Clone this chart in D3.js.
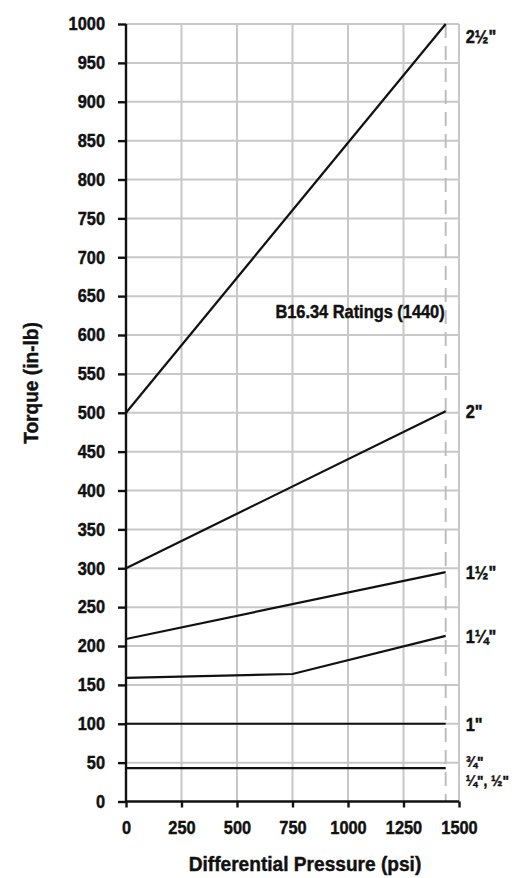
<!DOCTYPE html>
<html>
<head>
<meta charset="utf-8">
<script src="https://cdn.jsdelivr.net/npm/d3@7"></script>
<style>
  html, body { margin: 0; padding: 0; background: #fff; }
  svg text { font-family: "Liberation Sans", Arial, sans-serif; font-weight: bold; fill: #111; stroke: #111; stroke-width: 0.45px; }
</style>
</head>
<body>
<svg id="chart" width="519" height="878"></svg>
<script>
// Operating torque vs differential pressure, by valve size
const sizes = ["2\u00bd\"", "2\"", "1\u00bd\"", "1\u00bc\"", "1\""];
const smallSizes = ["\u00be\"", "\u00bc\", \u00bd\""];
const pressuresEnds = [0, 1440];
const pressuresKinked = [0, 750, 1440];
const torque2_5 = [500, 1000];
const torque2 = [300, 502];
const torque1_5 = [209, 295];
const torque1_25 = [159, 164, 213];
const torque1 = [100, 100];
const torqueSmall = [43, 43];
const ratingPressure = 1440;
const ratingLabel = "B16.34 Ratings (1440)";
const xTicks = [0, 250, 500, 750, 1000, 1250, 1500];
const yTicks = d3.range(0, 1001, 50);

const series = [
  { p: pressuresEnds, t: torque2_5 },
  { p: pressuresEnds, t: torque2 },
  { p: pressuresEnds, t: torque1_5 },
  { p: pressuresKinked, t: torque1_25 },
  { p: pressuresEnds, t: torque1 },
  { p: pressuresEnds, t: torqueSmall }
];

const svg = d3.select("#chart");
const W = 519, H = 878;
const margin = { left: 126, right: 60, top: 24, bottom: 76.5 };

const x = d3.scaleLinear().domain([0, 1500]).range([margin.left, W - margin.right]);
const y = d3.scaleLinear().domain([0, 1000]).range([H - margin.bottom, margin.top]);

// grid
const grid = svg.append("g").attr("stroke", "#c8c8c8").attr("stroke-width", 2);
grid.selectAll("line.h").data(yTicks.slice(1)).join("line")
  .attr("x1", x(0)).attr("x2", x(1500))
  .attr("y1", d => y(d)).attr("y2", d => y(d));
grid.selectAll("line.v").data(xTicks.slice(1)).join("line")
  .attr("y1", y(0)).attr("y2", y(1000))
  .attr("x1", d => x(d)).attr("x2", d => x(d));

// pressure rating limit
svg.append("line")
  .attr("x1", x(ratingPressure)).attr("x2", x(ratingPressure))
  .attr("y1", y(1000)).attr("y2", y(0))
  .attr("stroke", "#bdbdbd").attr("stroke-width", 2)
  .attr("stroke-dasharray", "14,8");

svg.append("text")
  .attr("x", x(ratingPressure) - 1).attr("y", y(629))
  .attr("text-anchor", "end").attr("dominant-baseline", "central")
  .style("font-size", "18px")
  .text(ratingLabel);

// axes
const fmt = d3.format("d");
const yAxis = svg.append("g").attr("transform", `translate(${x(0)},0)`)
  .call(d3.axisLeft(y).tickValues(yTicks).tickFormat(fmt).tickSize(8).tickPadding(13));
const xAxis = svg.append("g").attr("transform", `translate(0,${y(0)})`)
  .call(d3.axisBottom(x).tickValues(xTicks).tickFormat(fmt).tickSize(6).tickPadding(14));
[yAxis, xAxis].forEach(a => {
  a.select(".domain").attr("stroke", "#111").attr("stroke-width", 2.4);
  a.selectAll(".tick line").attr("stroke", "#111").attr("stroke-width", 2.4);
  a.selectAll(".tick text").style("font-size", "18px").attr("fill", "#111");
});
yAxis.select(".domain").attr("d", `M0,${y(0)}V${y(1000)}`);
xAxis.select(".domain").attr("d", `M${x(0)},0H${x(1500)}`);

// series lines
const line = d3.line().x(d => x(d[0])).y(d => y(d[1]));
svg.append("g").selectAll("path").data(series).join("path")
  .attr("d", s => line(s.p.map((p, i) => [p, s.t[i]])))
  .attr("fill", "none").attr("stroke", "#111").attr("stroke-width", 2.2);

// end-of-line size labels
const endX = x(ratingPressure) + 20;
const lab = svg.append("g");
sizes.forEach((s, i) => {
  const t = series[i].t;
  lab.append("text").attr("x", endX)
    .attr("y", y(t[t.length - 1]) + (i === 0 ? 13 : 1))
    .attr("dominant-baseline", "central")
    .style("font-size", "18px")
    .text(s);
});
const smallEnd = torqueSmall[torqueSmall.length - 1];
lab.append("text").attr("x", endX).attr("y", y(smallEnd) - 7)
  .attr("dominant-baseline", "central").style("font-size", "15px").text(smallSizes[0]);
lab.append("text").attr("x", endX).attr("y", y(smallEnd) + 12)
  .attr("dominant-baseline", "central").style("font-size", "15px").text(smallSizes[1]);

// axis titles
svg.append("text")
  .attr("x", 305).attr("y", 863)
  .attr("text-anchor", "middle").attr("dominant-baseline", "central")
  .style("font-size", "21px")
  .text("Differential Pressure (psi)");
svg.append("text")
  .attr("transform", "translate(30,383) rotate(-90)")
  .attr("text-anchor", "middle").attr("dominant-baseline", "central")
  .style("font-size", "21px")
  .text("Torque (in-lb)");

// condensed lettering: narrow every label horizontally
svg.selectAll("text").each(function () {
  const w = this.getComputedTextLength();
  d3.select(this).attr("textLength", (w * 0.91).toFixed(1)).attr("lengthAdjust", "spacingAndGlyphs");
});
</script>
</body>
</html>
